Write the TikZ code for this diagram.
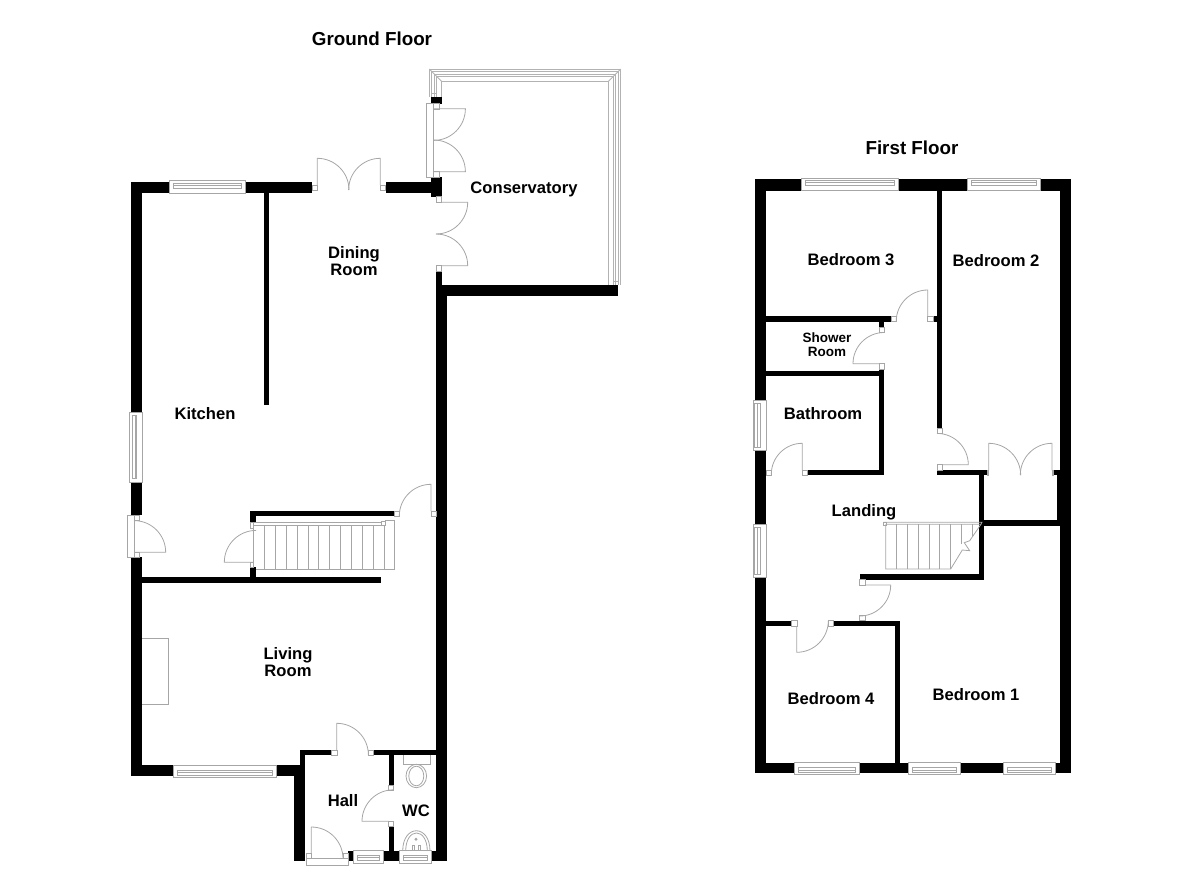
\documentclass[tikz,border=0pt]{standalone}
\usepackage{fontspec}
\setmainfont{Liberation Sans}
\usepackage{pgf,tikz}
\newcommand{\wall}[4]{\fill[wallfill] (#1,#2) rectangle (#3,#4);}
\newcommand{\jamb}[2]{\draw[fixture, fill=white] (#1,#2) rectangle ++(5.3,5.3);}
\newcommand{\winh}[6]{\draw[fixture, fill=white] (#1,#3) rectangle (#2,#4); \draw[fixture] (#1+4,#5) rectangle (#2-4,#6); \draw[fixture] (#1+4,#5+2.4) -- (#2-4,#5+2.4);}
\newcommand{\winv}[6]{\draw[fixture, fill=white] (#1,#3) rectangle (#2,#4); \draw[fixture] (#5,#3+3.4) rectangle (#6,#4-3.4); \draw[fixture] (#5+2.4,#3+3.4) -- (#5+2.4,#4-3.4);}
\tikzstyle{wallfill} = [fill=black]
\tikzstyle{fixture} = [draw=gray!70, line width=0.8pt]
\tikzstyle{framing} = [draw=gray!60, line width=0.9pt]
\tikzstyle{titlelabel} = [font=\bfseries\fontsize{18.8}{18.8}\selectfont, text=black, inner sep=0pt]
\tikzstyle{roomlabel} = [font=\bfseries\fontsize{16.6}{16.6}\selectfont, align=center, text=black, inner sep=0pt]
\tikzstyle{smalllabel} = [font=\bfseries\fontsize{13.5}{13.8}\selectfont, align=center, text=black, inner sep=0pt]
\begin{document}
\begin{tikzpicture}[x=1pt, y=-1pt]
	\useasboundingbox (0,0) rectangle (1200,872);
	% ground floor walls
	\wall{131.3}{182.3}{169}{193}
	\wall{245.7}{182.3}{312}{193}
	\wall{385.7}{182.3}{437}{193}
	\wall{431}{177}{441.7}{196.7}
	\wall{431}{97}{441.7}{103.7}
	\wall{263.7}{193}{269}{404.7}
	\wall{131.3}{182.3}{142}{412.3}
	\wall{131.3}{482}{142}{515.3}
	\wall{131.3}{557.3}{142}{775.7}
	\wall{131.3}{765}{173.3}{775.7}
	\wall{276}{765}{305}{775.7}
	\wall{294}{765}{305}{861}
	\wall{299.7}{750}{305}{775.7}
	\wall{299.7}{750}{331.7}{755}
	\wall{373.3}{750}{437}{755}
	\wall{436.3}{270.7}{441.7}{296}
	\wall{441.7}{285.3}{618.3}{296}
	\wall{436.3}{285.3}{446.7}{861}
	\wall{142}{576.7}{381}{582.7}
	\wall{250.3}{510.7}{394.3}{516.3}
	\wall{250.3}{510.7}{256.3}{522}
	\wall{250.3}{567.3}{256.3}{577}
	\wall{388.7}{755}{393.7}{785}
	\wall{388.7}{826.7}{393.7}{851}
	\wall{348.3}{850.7}{353.3}{861}
	\wall{383.3}{850.7}{399}{861}
	\wall{431}{850.7}{446.7}{861}
	% conservatory frame
	\foreach \d in {0,2.5,5,7}
		\draw[framing] (429.3+\d,97) -- (429.3+\d,69+\d) -- (620.7-\d,69+\d) -- (620.7-\d,285.3);
	\draw[framing, line width=1.3pt] (441.8,97) -- (441.8,81.5) -- (608.2,81.5) -- (608.2,285.3);
	\draw[framing] (429.3,69) -- (441.8,81.5);
	\draw[framing] (620.7,69) -- (608.2,81.5);
	\draw[framing] (613.7,281) -- (618.2,281);
	\draw[framing] (431.8,93) -- (436.3,93);
	% conservatory doors
	\draw[fixture, fill=white] (426.7,103.7) rectangle (433.7,177.3);
	\jamb{433.7}{103.7}
	\jamb{433.7}{171.7}
	\draw[fixture] (433.7,108.7) -- (465.4,108.7) arc[start angle=0, end angle=-90, radius=31.7pt];
	\draw[fixture] (433.7,171.7) -- (465.4,171.7) arc[start angle=0, end angle=90, radius=31.7pt];
	\jamb{436.3}{196.7}
	\jamb{436.3}{265.7}
	\draw[fixture] (441.7,202.3) -- (467.7,202.3) arc[start angle=0, end angle=-90, radius=31.7pt];
	\draw[fixture] (441.7,265.7) -- (467.7,265.7) arc[start angle=0, end angle=90, radius=31.7pt];
	% dining room doors
	\jamb{312}{185}
	\jamb{380.3}{185}
	\draw[fixture] (317.3,185) -- (317.3,158.3) arc[start angle=90, end angle=0, radius=31.7pt];
	\draw[fixture] (380.3,185) -- (380.3,158.3) arc[start angle=90, end angle=180, radius=31.7pt];
	% ground floor windows
	\winh{169}{245.7}{180.3}{193}{183.3}{188}
	\winv{129.3}{142}{412.3}{482}{132.7}{136.7}
	\winh{173.3}{276}{765}{777.3}{770.3}{775.3}
	\winh{353.3}{383.3}{850.7}{863.3}{855}{860}
	\winh{399}{431}{850.7}{863.3}{855}{860}
	% kitchen door
	\draw[fixture, fill=white] (127.3,515.3) rectangle (134,557.3);
	\jamb{134}{515.3}
	\jamb{134}{552}
	\draw[fixture] (134,552.3) -- (165.7,552.3) arc[start angle=0, end angle=90, radius=31.7pt];
	% stairs
	\draw[fixture, fill=white] (250.3,522) rectangle (253.7,528);
	\draw[fixture, fill=white] (250.3,562.3) rectangle (253.7,567.3);
	\draw[fixture] (253.7,522.7) rectangle (383.3,525);
	\draw[fixture, fill=white] (381.5,521.5) rectangle (385,525);
	\draw[fixture] (253.7,525) -- (253.7,562.3);
	\draw[fixture] (385,520.3) -- (394.7,520.3) -- (394.7,569) -- (256.3,569);
	\foreach \i in {0,...,11}
		\draw[fixture] (264.3+10.9*\i,525) -- (264.3+10.9*\i,569);
	\draw[fixture] (253.7,562.3) -- (224.3,562.3) arc[start angle=180, end angle=90, radius=31.9pt];
	% hall and living room doors
	\jamb{394.3}{511}
	\jamb{431}{511}
	\draw[fixture] (431,511) -- (431,484.3) arc[start angle=90, end angle=180, radius=31.7pt];
	\jamb{331.7}{750}
	\jamb{368}{750}
	\draw[fixture] (336.7,750) -- (336.7,723.3) arc[start angle=90, end angle=0, radius=31.7pt];
	\jamb{388.5}{785}
	\jamb{388.5}{821.3}
	\draw[fixture] (388.7,821.3) -- (362,821.3) arc[start angle=180, end angle=90, radius=31.5pt];
	\draw[fixture, fill=white] (306,858.7) rectangle (348.7,865.3);
	\jamb{306}{853.3}
	\jamb{343.3}{853.3}
	\draw[fixture] (311.3,853.3) -- (311.3,827) arc[start angle=90, end angle=0, radius=31.7pt];
	% fireplace
	\draw[fixture] (142,638.3) -- (168.7,638.3) -- (168.7,704) -- (142,704);
	% toilet and basin
	\draw[fixture] (403,755) -- (403,764.3) -- (430.3,764.3) -- (430.3,755);
	\draw[fixture] (416.3,776) ellipse (10.3pt and 11.7pt);
	\draw[fixture] (416.3,776) ellipse (7.5pt and 9.8pt);
	\draw[fixture] (402.7,851) .. controls (402.7,824) and (430,824) .. (430,851);
	\draw[fixture] (405.7,851) .. controls (405.7,827) and (427.3,827) .. (427.3,851);
	\draw[fixture] (412.3,845) rectangle (414.3,850);
	\draw[fixture] (418.7,845) rectangle (420.7,850);
	\draw[fixture] (416,839.3) circle (1pt);
	% first floor walls
	\wall{755.3}{179.3}{801}{190.7}
	\wall{898.3}{179.3}{967}{190.7}
	\wall{1040.7}{179.3}{1071}{190.7}
	\wall{755.3}{179.3}{766.3}{400}
	\wall{755.3}{450.3}{766.3}{524.3}
	\wall{755.3}{577.3}{766.3}{773}
	\wall{1060.3}{179.3}{1071}{773}
	\wall{937}{190.7}{942.3}{428.3}
	\wall{766}{316.3}{891.3}{321.7}
	\wall{933}{316.3}{937.5}{321.7}
	\wall{879.3}{321}{884.3}{327.3}
	\wall{766}{370.7}{884.3}{376}
	\wall{879.3}{369}{884.3}{475.3}
	\wall{808.3}{470.3}{884.3}{475.3}
	\wall{937}{470.3}{987.3}{475.3}
	\wall{979}{470.3}{984}{579.7}
	\wall{860}{574.3}{984}{579.7}
	\wall{984}{520.3}{1060.5}{525.7}
	\wall{1053.3}{470.3}{1060.5}{475.3}
	\wall{1057}{470.3}{1060.5}{521}
	\wall{766}{620.7}{791.7}{626}
	\wall{833.3}{620.7}{900}{626}
	\wall{894.7}{620.7}{900}{763}
	\wall{755.3}{762.7}{794.7}{773}
	\wall{859.3}{762.7}{908.3}{773}
	\wall{960.7}{762.7}{1003.7}{773}
	\wall{1055.3}{762.7}{1071}{773}
	% first floor windows
	\winh{801}{898.3}{178}{190.7}{180}{185.3}
	\winh{967}{1040.7}{178}{190.7}{180}{185.3}
	\winv{753.3}{766.3}{400}{450.3}{754.7}{760.7}
	\winv{753.3}{766.3}{524.3}{577.3}{754.7}{760.7}
	\winh{794.7}{859.3}{762.7}{774.3}{767.7}{772.3}
	\winh{908.3}{960.7}{762.7}{774.3}{767.7}{772.3}
	\winh{1003.7}{1055.3}{762.7}{774.3}{767.7}{772.3}
	% first floor doors
	\jamb{891.3}{316.3}
	\jamb{927.7}{316.3}
	\draw[fixture] (927.7,316.3) -- (927.7,290) arc[start angle=90, end angle=180, radius=31.5pt];
	\jamb{879.3}{327.3}
	\jamb{879.3}{363.7}
	\draw[fixture] (879.3,363.7) -- (853,363.7) arc[start angle=180, end angle=90, radius=31.2pt];
	\jamb{766.3}{470.3}
	\jamb{802.3}{470.3}
	\draw[fixture] (802.3,470.3) -- (802.3,443.3) arc[start angle=90, end angle=180, radius=31pt];
	\jamb{937}{428.3}
	\jamb{937}{464.7}
	\draw[fixture] (942.3,464.7) -- (968.3,464.7) arc[start angle=0, end angle=90, radius=31.3pt];
	\jamb{859.7}{579.7}
	\jamb{859.7}{615.3}
	\draw[fixture] (865,585) -- (890.7,585) arc[start angle=0, end angle=-90, radius=31pt];
	\jamb{791.7}{620.7}
	\jamb{828.3}{620.7}
	\draw[fixture] (796.7,626) -- (796.7,652.3) arc[start angle=-90, end angle=0, radius=31.6pt];
	% wardrobe doors
	\draw[fixture, fill=white] (987.3,470.3) rectangle (988.7,475.3);
	\draw[fixture, fill=white] (1052,470.3) rectangle (1053.3,475.3);
	\draw[fixture] (988.7,470.3) -- (988.7,443.3) arc[start angle=90, end angle=0, radius=32pt];
	\draw[fixture] (1052,470.3) -- (1052,443.3) arc[start angle=90, end angle=180, radius=31.7pt];
	% landing stairs
	\draw[fixture] (883.7,522.3) -- (982,522.3) -- (981,524.3) -- (883.7,524.3) -- cycle;
	\draw[fixture, fill=white] (883.7,522.3) rectangle (886.7,525.3);
	\draw[fixture] (885.7,524.3) -- (885.7,569) -- (950.7,569) -- (962.3,550) -- (969.7,550.7) -- (964.3,542.7) -- (969.7,540.7) -- (981,524.3);
	\foreach \i in {1,...,6}
		\draw[fixture] (885.7+10.8*\i,524.3) -- (885.7+10.8*\i,569);
	\draw[fixture] (961.5,524.3) -- (961.5,544);
	\draw[fixture] (972,524.3) -- (972,536.5);
	% labels
	\node[titlelabel] (groundtitle) at (372,39) {Ground Floor};
	\node[titlelabel] (firsttitle) at (912,148) {First Floor};
	\node[roomlabel] (conservatory) at (524,189) {Conservatory};
	\node[roomlabel] (dining) at (354,261) {Dining\\Room};
	\node[roomlabel] (kitchen) at (205,414) {Kitchen};
	\node[roomlabel] (living) at (288,662) {Living\\Room};
	\node[roomlabel] (hall) at (343,801) {Hall};
	\node[roomlabel] (wc) at (416,811) {WC};
	\node[roomlabel] (bedthree) at (851,259.5) {Bedroom 3};
	\node[roomlabel] (bedtwo) at (996,261) {Bedroom 2};
	\node[smalllabel] (shower) at (827,344.5) {Shower\\Room};
	\node[roomlabel] (bathroom) at (823,414) {Bathroom};
	\node[roomlabel] (landing) at (864,512) {Landing};
	\node[roomlabel] (bedfour) at (831,699) {Bedroom 4};
	\node[roomlabel] (bedone) at (976,695) {Bedroom 1};
\end{tikzpicture}
\end{document}
